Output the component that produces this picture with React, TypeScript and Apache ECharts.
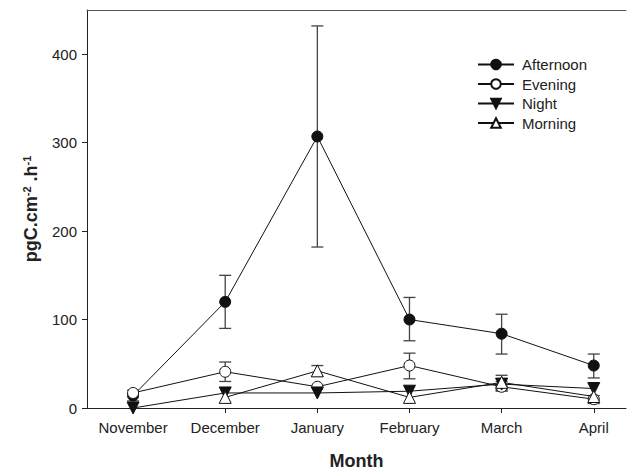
import React, { useEffect, useRef } from "react";
import * as echarts from "echarts";

const months = ["November", "December", "January", "February", "March", "April"];
const yTicks = [0, 100, 200, 300, 400];

const afternoon = [14, 120, 307, 100, 84, 48];
const evening = [17, 41, 24, 48, 24, 10];
const night = [0, 17, 17, 19, 27, 22];
const morning = [null, 12, 42, 12, 29, 13];

// error bar low / high (null = no bar)
const afternoonLow = [8, 90, 182, 76, 61, 34];
const afternoonHigh = [20, 150, 432, 125, 106, 61];
const eveningLow = [null, 30, null, 33, 20, 5];
const eveningHigh = [null, 52, null, 62, 30, 14];
const nightLow = [null, null, null, null, 21, null];
const nightHigh = [null, null, null, null, 33, null];
const morningLow = [null, null, 36, null, 19, null];
const morningHigh = [null, null, 48, null, 37, null];

const FONT = "'Liberation Sans', Arial, sans-serif";
const TXT = "#222";

function pairs(vals: (number | null)[]) {
  const out: number[][] = [];
  vals.forEach((v, i) => {
    if (v != null) out.push([i + 1, v]);
  });
  return out;
}

function errData(lo: (number | null)[], hi: (number | null)[]) {
  const out: number[][] = [];
  lo.forEach((l, i) => {
    const h = hi[i];
    if (l != null && h != null) out.push([i + 1, l, h]);
  });
  return out;
}

export default function App() {
  const ref = useRef<HTMLDivElement>(null);
  useEffect(() => {
    if (!ref.current) return;
    const chart = echarts.init(ref.current, null, { renderer: "svg" });
    const errAll = [
      ...errData(afternoonLow, afternoonHigh),
      ...errData(eveningLow, eveningHigh),
      ...errData(nightLow, nightHigh),
      ...errData(morningLow, morningHigh),
    ];
    const lineStyle = { color: "#111", width: 1 };
    const xMin = 0.5;
    const xMax = 6.35;
    const option: any = {
      animation: false,
      backgroundColor: "#fff",
      textStyle: { fontFamily: FONT, color: TXT },
      grid: { left: 87, right: 12, top: 10, bottom: 66 },
      legend: {
        data: ["Afternoon", "Evening", "Night", "Morning"],
        orient: "vertical",
        left: 472,
        top: 52,
        itemWidth: 36,
        itemHeight: 12,
        itemGap: 4.5,
        textStyle: { fontFamily: FONT, fontSize: 15, color: TXT, padding: [0, 0, 0, 3] },
      },
      xAxis: [
        {
          type: "value",
          min: xMin,
          max: xMax,
          name: "Month",
          nameLocation: "middle",
          nameGap: 44,
          nameTextStyle: { fontFamily: FONT, fontSize: 18, fontWeight: "bold", color: TXT },
          axisLine: { show: true, lineStyle: { color: "#222", width: 1 } },
          axisTick: { show: true, length: 5, customValues: [1, 2, 3, 4, 5, 6], lineStyle: { color: "#222" } },
          axisLabel: {
            customValues: [1, 2, 3, 4, 5, 6],
            formatter: (v: number) => months[Math.round(v) - 1] || "",
            fontFamily: FONT,
            fontSize: 15,
            color: TXT,
            margin: 12,
          },
          splitLine: { show: false },
        },
        {
          type: "value",
          position: "top",
          min: xMin,
          max: xMax,
          axisLine: { show: true, lineStyle: { color: "#555", width: 1 } },
          axisTick: { show: false },
          axisLabel: { show: false },
          splitLine: { show: false },
        },
      ],
      yAxis: {
        type: "value",
        min: 0,
        max: 450,
        name: "{b|pgC.cm}{s|-2}{b| .h}{s|-1}",
        nameLocation: "middle",
        nameGap: 46,
        nameTextStyle: {
          rich: {
            b: { fontFamily: FONT, fontSize: 18, fontWeight: "bold", color: TXT, lineHeight: 20 },
            s: { fontFamily: FONT, fontSize: 11, fontWeight: "bold", color: TXT, verticalAlign: "top", lineHeight: 20 },
          },
        },
        axisLine: { show: true, lineStyle: { color: "#222", width: 1 } },
        axisTick: { show: true, length: 5, customValues: yTicks, lineStyle: { color: "#222" } },
        axisLabel: { customValues: yTicks, fontFamily: FONT, fontSize: 15, color: TXT, margin: 10 },
        splitLine: { show: false },
      },
      series: [
        {
          type: "custom",
          name: "err",
          z: 1,
          data: errAll,
          renderItem: (params: any, api: any) => {
            const x = api.value(0);
            const lo = api.coord([x, api.value(1)]);
            const hi = api.coord([x, api.value(2)]);
            const w = 6;
            const st = { stroke: "#444", lineWidth: 1.3 };
            return {
              type: "group",
              children: [
                { type: "line", shape: { x1: lo[0], y1: lo[1], x2: hi[0], y2: hi[1] }, style: st },
                { type: "line", shape: { x1: lo[0] - w, y1: lo[1], x2: lo[0] + w, y2: lo[1] }, style: st },
                { type: "line", shape: { x1: hi[0] - w, y1: hi[1], x2: hi[0] + w, y2: hi[1] }, style: st },
              ],
            };
          },
        },
        {
          type: "line",
          name: "Afternoon",
          z: 3,
          data: pairs(afternoon),
          symbol: "circle",
          symbolSize: 11,
          itemStyle: { color: "#111", borderColor: "#111", borderWidth: 1 },
          lineStyle,
        },
        {
          type: "line",
          name: "Evening",
          z: 4,
          data: pairs(evening),
          symbol: "circle",
          symbolSize: 11,
          itemStyle: { color: "#fff", borderColor: "#111", borderWidth: 1 },
          lineStyle,
        },
        {
          type: "line",
          name: "Night",
          z: 5,
          data: pairs(night),
          symbol: "triangle",
          symbolRotate: 180,
          symbolSize: 12,
          itemStyle: { color: "#111", borderColor: "#111", borderWidth: 1 },
          lineStyle,
        },
        {
          type: "line",
          name: "Morning",
          z: 6,
          data: pairs(morning),
          symbol: "triangle",
          symbolSize: 12,
          itemStyle: { color: "#fff", borderColor: "#111", borderWidth: 1 },
          lineStyle,
        },
      ],
    };
    chart.setOption(option);
    return () => chart.dispose();
  }, []);
  return <div ref={ref} style={{ position: "fixed", left: 0, top: 0, width: 638, height: 475 }} />;
}
